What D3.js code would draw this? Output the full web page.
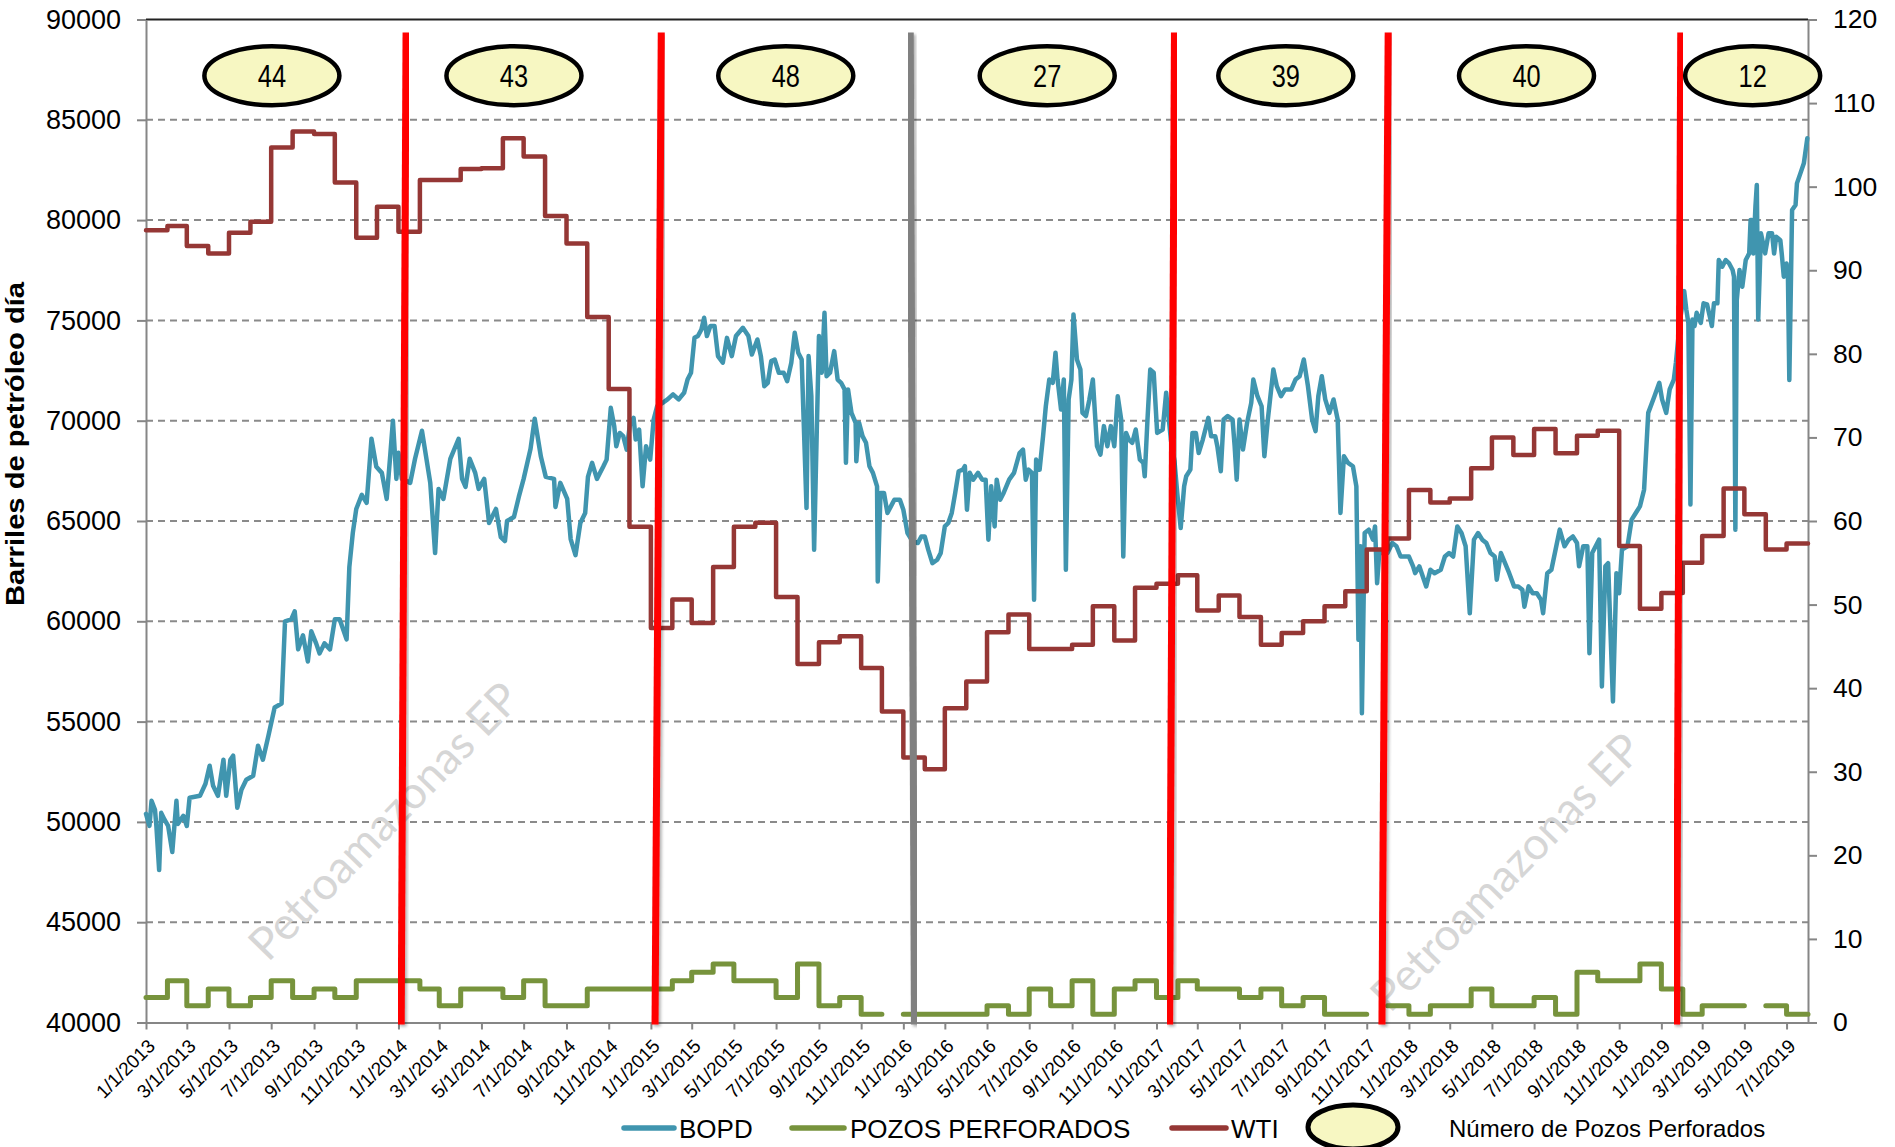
<!DOCTYPE html>
<html><head><meta charset="utf-8">
<script src="https://cdn.jsdelivr.net/npm/d3@7"></script>
<style>
html,body{margin:0;padding:0;background:#fff;}
svg{display:block;}
text{font-family:"Liberation Sans", Arial, sans-serif;}
</style></head><body>
<svg id="chart" width="1895" height="1147"></svg>
<script>
// ---------------- DATA ----------------
const xDomain = ["2013-01-01", "2019-08-01"];
const leftTicks = [40000, 45000, 50000, 55000, 60000, 65000, 70000, 75000, 80000, 85000, 90000];
const rightTicks = [0, 10, 20, 30, 40, 50, 60, 70, 80, 90, 100, 110, 120];
const monthlyStart = "2013-01-01";

// WTI monthly (USD/bbl), Jan 2013 .. Jul 2019
const wti = [
  94.8, 95.3, 92.9, 92.0, 94.5, 95.8, 104.7, 106.6, 106.3, 100.5, 93.9, 97.6,
  94.6, 100.8, 100.8, 102.1, 102.2, 105.8, 103.6, 96.5, 93.2, 84.4, 75.8, 59.3,
  47.2, 50.6, 47.8, 54.5, 59.3, 59.8, 50.9, 42.9, 45.5, 46.2, 42.4, 37.2,
  31.7, 30.3, 37.6, 40.8, 46.7, 48.8, 44.7, 44.7, 45.2, 49.8, 45.7, 52.0,
  52.5, 53.5, 49.3, 51.1, 48.5, 45.2, 46.6, 48.0, 49.8, 51.6, 56.6, 57.9,
  63.7, 62.2, 62.7, 66.3, 70.0, 67.9, 71.0, 68.1, 70.2, 70.8, 57.0, 49.5,
  51.4, 55.0, 58.2, 63.9, 60.8, 56.6, 57.3
];

// Pozos perforados por mes, Jan 2013 .. Jul 2019 (null = sin dato)
const pozos = [
  3, 5, 2, 4, 2, 3, 5, 3, 4, 3, 5, 5,
  5, 4, 2, 4, 4, 3, 5, 2, 2, 4, 4, 4,
  4, 5, 6, 7, 5, 5, 3, 7, 2, 3, 1, null,
  1, 1, 1, 1, 2, 1, 4, 2, 5, 1, 4, 5,
  3, 5, 4, 4, 3, 4, 2, 3, 1, 1, null, 2,
  1, 2, 2, 4, 2, 2, 3, 1, 6, 5, 5, 7,
  4, 1, 2, 2, null, 2, 1
];

// BOPD (barriles de petróleo por día)
const bopd = [
["2013-01-01",50400],["2013-01-06",49800],["2013-01-09",51050],["2013-01-14",50600],["2013-01-16",49800],
["2013-01-20",47600],["2013-01-23",50450],["2013-01-28",50100],["2013-02-02",49800],["2013-02-08",48500],
["2013-02-14",51050],["2013-02-16",49900],["2013-02-24",50300],["2013-03-01",49800],["2013-03-05",51200],
["2013-03-20",51300],["2013-03-28",51900],["2013-04-03",52800],["2013-04-08",51800],["2013-04-15",51300],
["2013-04-23",53100],["2013-04-27",51300],["2013-05-03",53100],["2013-05-07",53300],["2013-05-13",50700],
["2013-05-19",51600],["2013-05-26",52100],["2013-06-05",52300],["2013-06-12",53800],["2013-06-19",53100],
["2013-06-27",54300],["2013-07-06",55700],["2013-07-16",55900],["2013-07-21",60000],["2013-07-30",60100],
["2013-08-04",60500],["2013-08-09",58600],["2013-08-16",59300],["2013-08-23",58000],["2013-08-28",59500],
["2013-09-04",58900],["2013-09-09",58400],["2013-09-16",58900],["2013-09-24",58600],["2013-10-01",60100],
["2013-10-08",60100],["2013-10-18",59100],["2013-10-22",62700],["2013-10-27",64400],["2013-11-01",65600],
["2013-11-09",66300],["2013-11-16",65900],["2013-11-23",69100],["2013-11-30",67700],["2013-12-08",67400],
["2013-12-15",66100],["2013-12-20",68200],["2013-12-24",70000],["2013-12-29",67100],["2014-01-01",68400],
["2014-01-06",67100],["2014-01-18",66900],["2014-01-25",68100],["2014-02-04",69500],["2014-02-16",66900],
["2014-02-23",63400],["2014-02-28",66600],["2014-03-07",66100],["2014-03-17",68100],["2014-03-29",69100],
["2014-04-03",67100],["2014-04-08",66700],["2014-04-14",68100],["2014-04-22",67400],["2014-04-27",66600],
["2014-05-05",67100],["2014-05-12",64900],["2014-05-22",65600],["2014-05-29",64200],["2014-06-04",64000],
["2014-06-07",65000],["2014-06-17",65200],["2014-06-24",66200],["2014-07-01",67100],["2014-07-11",68600],
["2014-07-17",70100],["2014-07-26",68200],["2014-08-02",67200],["2014-08-14",67100],["2014-08-16",65700],
["2014-08-23",66900],["2014-09-02",66100],["2014-09-07",64100],["2014-09-14",63300],["2014-09-21",64900],
["2014-09-28",65400],["2014-10-02",67200],["2014-10-08",67900],["2014-10-15",67100],["2014-10-24",67700],
["2014-10-29",68060],["2014-11-04",70640],["2014-11-09",69730],["2014-11-12",68730],["2014-11-17",69390],
["2014-11-22",69230],["2014-11-27",68560],["2014-12-02",69890],["2014-12-07",70140],["2014-12-10",69060],
["2014-12-15",69560],["2014-12-20",66730],["2014-12-25",68730],["2014-12-31",68060],["2015-01-05",70060],
["2015-01-10",70720],["2015-01-18",70890],["2015-01-25",71060],["2015-02-02",71310],["2015-02-10",71060],
["2015-02-18",71390],["2015-02-23",72050],["2015-02-28",72390],["2015-03-05",74130],["2015-03-10",74220],
["2015-03-15",74550],["2015-03-19",75130],["2015-03-23",74220],["2015-03-28",74720],["2015-04-03",74720],
["2015-04-08",73220],["2015-04-15",72890],["2015-04-21",74130],["2015-04-28",73220],["2015-05-04",74220],
["2015-05-14",74630],["2015-05-22",74220],["2015-05-27",73300],["2015-06-04",74050],["2015-06-09",73220],
["2015-06-14",71720],["2015-06-19",71890],["2015-06-24",72970],["2015-06-29",73050],["2015-07-05",72390],
["2015-07-12",72390],["2015-07-17",71970],["2015-07-23",72890],["2015-07-28",74380],["2015-08-02",73390],
["2015-08-07",73050],["2015-08-14",65650],["2015-08-17",73220],["2015-08-21",71220],["2015-08-25",63570],
["2015-08-28",68230],["2015-09-01",74220],["2015-09-05",72390],["2015-09-09",75380],["2015-09-12",72220],
["2015-09-17",72390],["2015-09-23",73470],["2015-09-28",72050],["2015-10-03",71890],["2015-10-08",71560],
["2015-10-10",67900],["2015-10-13",71560],["2015-10-18",70390],["2015-10-24",69890],["2015-10-25",67980],
["2015-10-29",69890],["2015-11-03",69230],["2015-11-08",68900],["2015-11-13",67730],["2015-11-18",67400],
["2015-11-24",66730],["2015-11-25",61990],["2015-11-29",66400],["2015-12-04",66400],["2015-12-09",65400],
["2015-12-14",65730],["2015-12-19",66060],["2015-12-27",66060],["2016-01-01",65560],["2016-01-07",64400],
["2016-01-14",64000],["2016-01-22",63900],["2016-01-27",64230],["2016-02-01",64230],["2016-02-06",63570],
["2016-02-12",62900],["2016-02-19",63070],["2016-02-24",63400],["2016-03-01",64730],["2016-03-06",64900],
["2016-03-11",65400],["2016-03-16",66400],["2016-03-21",67480],["2016-03-27",67560],["2016-03-30",67730],
["2016-04-02",65560],["2016-04-06",67400],["2016-04-11",67060],["2016-04-18",67400],["2016-04-24",67060],
["2016-04-29",67060],["2016-05-03",64070],["2016-05-07",66730],["2016-05-12",64730],["2016-05-15",67060],
["2016-05-20",66060],["2016-05-25",66400],["2016-06-02",67060],["2016-06-09",67400],["2016-06-17",68390],
["2016-06-22",68560],["2016-06-26",67060],["2016-06-30",67560],["2016-07-05",67400],["2016-07-08",61070],
["2016-07-11",68060],["2016-07-16",67560],["2016-07-21",69230],["2016-07-25",70720],["2016-07-30",72050],
["2016-08-04",71890],["2016-08-08",73390],["2016-08-11",72050],["2016-08-16",70560],["2016-08-20",72050],
["2016-08-23",62570],["2016-08-27",71060],["2016-08-31",72050],["2016-09-03",75300],["2016-09-08",73050],
["2016-09-13",72550],["2016-09-16",70390],["2016-09-21",70230],["2016-09-26",71060],["2016-10-01",72050],
["2016-10-04",70390],["2016-10-07",68730],["2016-10-12",68310],["2016-10-17",69730],["2016-10-22",68730],
["2016-10-27",69730],["2016-11-01",68730],["2016-11-06",71220],["2016-11-11",70060],["2016-11-14",63230],
["2016-11-18",69390],["2016-11-22",69060],["2016-11-27",68900],["2016-12-02",69560],["2016-12-08",68060],
["2016-12-13",67900],["2016-12-15",67230],["2016-12-19",70060],["2016-12-23",72550],["2016-12-28",72390],
["2017-01-02",69390],["2017-01-10",69560],["2017-01-15",71390],["2017-01-22",69000],["2017-01-27",68000],
["2017-01-31",66400],["2017-02-05",64650],["2017-02-10",66730],["2017-02-13",67230],["2017-02-19",67560],
["2017-02-22",69390],["2017-02-27",69390],["2017-03-03",68390],["2017-03-09",69060],["2017-03-17",70140],
["2017-03-21",69230],["2017-03-27",69230],["2017-03-30",68730],["2017-04-04",67480],["2017-04-08",70060],
["2017-04-14",70230],["2017-04-21",70060],["2017-04-24",68730],["2017-04-27",67060],["2017-05-01",70060],
["2017-05-06",68560],["2017-05-12",69890],["2017-05-18",70890],["2017-05-21",72050],["2017-05-27",71220],
["2017-06-02",70720],["2017-06-06",68230],["2017-06-11",70060],["2017-06-19",72550],["2017-06-24",71720],
["2017-06-30",71220],["2017-07-06",71560],["2017-07-15",71560],["2017-07-21",72050],["2017-07-27",72220],
["2017-08-02",73050],["2017-08-08",71720],["2017-08-14",70060],["2017-08-19",69480],["2017-08-23",71220],
["2017-08-28",72220],["2017-09-02",71060],["2017-09-08",70390],["2017-09-14",71060],["2017-09-20",70060],
["2017-09-24",65400],["2017-09-29",68230],["2017-10-05",67900],["2017-10-12",67730],["2017-10-17",66730],
["2017-10-20",59080],["2017-10-23",63740],["2017-10-25",55420],["2017-10-29",64400],["2017-11-04",64570],
["2017-11-10",64070],["2017-11-13",64730],["2017-11-16",61900],["2017-11-19",63400],["2017-12-01",63400],
["2017-12-08",63900],["2017-12-14",63740],["2017-12-20",63230],["2018-01-01",63230],["2018-01-07",62740],
["2018-01-10",62400],["2018-01-16",62740],["2018-01-26",61740],["2018-02-01",62570],["2018-02-07",62400],
["2018-02-16",62570],["2018-02-22",63230],["2018-02-28",63400],["2018-03-06",63230],["2018-03-12",64730],
["2018-03-18",64400],["2018-03-24",63740],["2018-03-30",60400],["2018-04-05",64070],["2018-04-11",64400],
["2018-04-17",64070],["2018-04-23",63900],["2018-04-29",63400],["2018-05-05",63230],["2018-05-08",62070],
["2018-05-14",63400],["2018-05-20",62900],["2018-05-26",62400],["2018-06-02",61740],["2018-06-08",61740],
["2018-06-14",61570],["2018-06-17",60730],["2018-06-23",61740],["2018-06-29",61400],["2018-07-05",61400],
["2018-07-11",61070],["2018-07-14",60400],["2018-07-20",62400],["2018-07-26",62570],["2018-08-01",63570],
["2018-08-07",64570],["2018-08-14",63740],["2018-08-20",64070],["2018-08-26",64230],["2018-09-01",63900],
["2018-09-04",62740],["2018-09-10",63740],["2018-09-16",63740],["2018-09-19",58410],["2018-09-23",63400],
["2018-09-28",63740],["2018-10-03",64070],["2018-10-07",56750],["2018-10-12",62740],["2018-10-16",62900],
["2018-10-23",56000],["2018-10-28",62400],["2018-11-01",61400],["2018-11-05",63570],["2018-11-13",63740],
["2018-11-19",65070],["2018-11-25",65400],["2018-12-01",65730],["2018-12-07",66560],["2018-12-13",70390],
["2018-12-22",71220],["2018-12-29",71890],["2019-01-02",71060],["2019-01-08",70390],["2019-01-13",71560],
["2019-01-19",72050],["2019-01-22",72890],["2019-01-28",75000],["2019-02-03",76460],["2019-02-06",75550],
["2019-02-09",74880],["2019-02-12",65820],["2019-02-15",75050],["2019-02-18",74720],["2019-02-21",75380],
["2019-02-27",74870],["2019-03-03",75850],["2019-03-08",75800],["2019-03-13",75050],["2019-03-15",74720],
["2019-03-18",75850],["2019-03-23",75850],["2019-03-25",78010],["2019-03-30",77680],["2019-04-04",78010],
["2019-04-09",77840],["2019-04-14",77510],["2019-04-16",77180],["2019-04-18",64570],["2019-04-20",76010],
["2019-04-24",77510],["2019-04-28",76680],["2019-05-03",78010],["2019-05-08",78340],["2019-05-10",80000],
["2019-05-12",80000],["2019-05-14",78340],["2019-05-17",80670],["2019-05-19",81750],["2019-05-21",75050],
["2019-05-25",79340],["2019-05-29",78670],["2019-05-31",78340],["2019-06-05",79340],["2019-06-10",79340],
["2019-06-13",78340],["2019-06-16",79170],["2019-06-22",79000],["2019-06-24",78340],["2019-06-27",77180],
["2019-07-01",77840],["2019-07-03",77180],["2019-07-05",72030],["2019-07-09",80500],["2019-07-14",80750],
["2019-07-16",81830],["2019-07-21",82330],["2019-07-26",82830],["2019-07-28",83330],["2019-07-31",84080]
];

// Vertical period separators (top date, bottom date) and kind
const sepTop    = ["2014-01-12", "2015-01-16", "2016-01-11", "2017-01-27", "2017-12-02", "2019-01-29"];
const sepBottom = ["2014-01-05", "2015-01-07", "2016-01-17", "2017-01-20", "2017-11-23", "2019-01-23"];
const sepKind   = ["red", "red", "gray", "red", "red", "red"];

// Number of wells drilled per period (ellipse labels)
const wellCounts = [44, 43, 48, 27, 39, 40, 12];
const wellDates  = ["2013-07-02", "2014-06-17", "2015-07-15", "2016-07-27", "2017-07-07", "2018-06-20", "2019-05-13"];

const legendLabels = ["BOPD", "POZOS PERFORADOS", "WTI", "Número de Pozos Perforados"];

// ---------------- CHART ----------------
const W = 1895, H = 1147;
const M = {left: 146, right: 1808, top: 19.5, bottom: 1022.5};
const parse = d3.utcParse("%Y-%m-%d");
const C = {bopd: "#4095AF", pozos: "#77933C", wti: "#953735", axis: "#868686", grid: "#8A8A8A"};

const svg = d3.select("#chart");
const x = d3.scaleUtc().domain(xDomain.map(parse)).range([M.left, M.right]);
const yL = d3.scaleLinear().domain([40000, 90000]).range([M.bottom, M.top]);
const yR = d3.scaleLinear().domain([0, 120]).range([M.bottom, M.top]);

const defs = svg.append("defs");
const f = defs.append("filter").attr("id", "shadow").attr("x", "-50%").attr("y", "-5%").attr("width", "200%").attr("height", "110%");
f.append("feDropShadow").attr("dx", 2).attr("dy", 2).attr("stdDeviation", 1.8).attr("flood-color", "#000").attr("flood-opacity", 0.3);

// gridlines
svg.append("g").selectAll("line").data(leftTicks.filter(v => v > 40000 && v < 90000)).join("line")
  .attr("x1", M.left).attr("x2", M.right).attr("y1", d => yL(d)).attr("y2", d => yL(d))
  .attr("stroke", C.grid).attr("stroke-width", 2).attr("stroke-dasharray", "7,5");

// watermark
const wm = [[384, 821], [1506, 872]];
svg.append("g").selectAll("text").data(wm).join("text")
  .attr("transform", d => `translate(${d[0]},${d[1]}) rotate(-45.8)`)
  .attr("text-anchor", "middle").attr("dy", "0.35em")
  .style("font-family", "Lato, 'Open Sans', sans-serif").style("font-size", "45px")
  .attr("fill", "#D6D6D6").text("Petroamazonas EP");

// top border
svg.append("line").attr("x1", M.left).attr("x2", M.right).attr("y1", M.top).attr("y2", M.top)
  .attr("stroke", "#222").attr("stroke-width", 2);

// axes
function styleAxis(g, fs) {
  g.select(".domain").attr("stroke", C.axis).attr("stroke-width", 2);
  g.selectAll(".tick line").attr("stroke", C.axis).attr("stroke-width", 2);
  g.selectAll(".tick text").attr("fill", "#000").style("font-size", fs + "px")
    .style("font-family", "'Liberation Sans', Arial, sans-serif");
}
const gL = svg.append("g").attr("transform", `translate(${M.left},0)`)
  .call(d3.axisLeft(yL).tickValues(leftTicks).tickSize(9).tickPadding(16).tickSizeOuter(0).tickFormat(d3.format("d")));
styleAxis(gL, 27);
const gR = svg.append("g").attr("transform", `translate(${M.right},0)`)
  .call(d3.axisRight(yR).tickValues(rightTicks).tickSize(9).tickPadding(16).tickSizeOuter(0).tickFormat(d3.format("d")));
styleAxis(gR, 26.5);
const gB = svg.append("g").attr("transform", `translate(0,${M.bottom})`)
  .call(d3.axisBottom(x).ticks(d3.utcMonth.every(2)).tickFormat(d3.utcFormat("%-m/%-d/%Y")).tickSize(7).tickSizeOuter(0));
styleAxis(gB, 19);
gB.selectAll(".tick text").attr("x", 0).attr("y", 0).attr("dy", "0.35em")
  .attr("text-anchor", "end").attr("transform", "translate(5,20) rotate(-45)");

// axis title
svg.append("text").attr("transform", "translate(24,444) rotate(-90)")
  .attr("text-anchor", "middle").style("font-size", "25px").style("font-weight", "bold")
  .attr("textLength", 324).attr("lengthAdjust", "spacingAndGlyphs")
  .text("Barriles de petróleo día");

// step builder for monthly series
function stepPts(values) {
  const s = parse(monthlyStart), end = parse(xDomain[1]);
  const pts = [];
  values.forEach((v, i) => {
    const t0 = d3.utcMonth.offset(s, i);
    const t1 = i === values.length - 1 ? end : d3.utcMonth.offset(s, i + 1);
    if (v == null) pts.push(null);
    else pts.push({t: t0, v}, {t: t1, v});
  });
  return pts;
}

const series = svg.append("g").attr("fill", "none").attr("stroke-linejoin", "round").attr("stroke-linecap", "round");
series.append("path").datum(bopd)
  .attr("d", d3.line().x(d => x(parse(d[0]))).y(d => yL(d[1])))
  .attr("stroke", C.bopd).attr("stroke-width", 4.5);
const stepLine = d3.line().defined(d => d !== null).x(d => x(d.t)).y(d => yR(d.v));
series.append("path").datum(stepPts(pozos)).attr("d", stepLine)
  .attr("stroke", C.pozos).attr("stroke-width", 5);
series.append("path").datum(stepPts(wti)).attr("d", stepLine)
  .attr("stroke", C.wti).attr("stroke-width", 4.5);

// separators
svg.append("g").selectAll("line").data(sepTop.map((t, i) => ({t, b: sepBottom[i], k: sepKind[i]}))).join("line")
  .attr("x1", d => x(parse(d.t))).attr("y1", M.top + 13)
  .attr("x2", d => x(parse(d.b))).attr("y2", M.bottom + 2)
  .attr("stroke", d => d.k === "red" ? "#FF0000" : "#808080")
  .attr("stroke-width", 7).attr("filter", "url(#shadow)");

// ellipses
const eg = svg.append("g").selectAll("g").data(wellCounts.map((c, i) => ({c, t: wellDates[i]}))).join("g")
  .attr("transform", d => `translate(${x(parse(d.t))},${yL(87200)})`);
eg.append("ellipse").attr("rx", 67.5).attr("ry", 29.5).attr("fill", "#F7F7C2").attr("stroke", "#000").attr("stroke-width", 4.5);
eg.append("text").attr("transform", "scale(0.82,1)").attr("text-anchor", "middle").attr("y", 11.5)
  .style("font-size", "31px").attr("fill", "#000").text(d => d.c);

// legend
const lg = svg.append("g");
const ly = 1128;
const lItems = [
  {x1: 624, x2: 674, tx: 679, c: C.bopd, t: legendLabels[0]},
  {x1: 792, x2: 844, tx: 850, c: C.pozos, t: legendLabels[1]},
  {x1: 1172, x2: 1226, tx: 1231, c: C.wti, t: legendLabels[2]}
];
lItems.forEach(it => {
  lg.append("line").attr("x1", it.x1).attr("x2", it.x2).attr("y1", ly).attr("y2", ly)
    .attr("stroke", it.c).attr("stroke-width", 5.5).attr("stroke-linecap", "round");
  lg.append("text").attr("x", it.tx).attr("y", ly + 9.5).style("font-size", "26px").attr("fill", "#000").text(it.t);
});
lg.append("ellipse").attr("cx", 1353).attr("cy", 1127).attr("rx", 45).attr("ry", 22)
  .attr("fill", "#F7F7C2").attr("stroke", "#000").attr("stroke-width", 5);
lg.append("text").attr("x", 1449).attr("y", ly + 9).style("font-size", "24px").attr("fill", "#000").text(legendLabels[3]);
</script>
</body></html>
